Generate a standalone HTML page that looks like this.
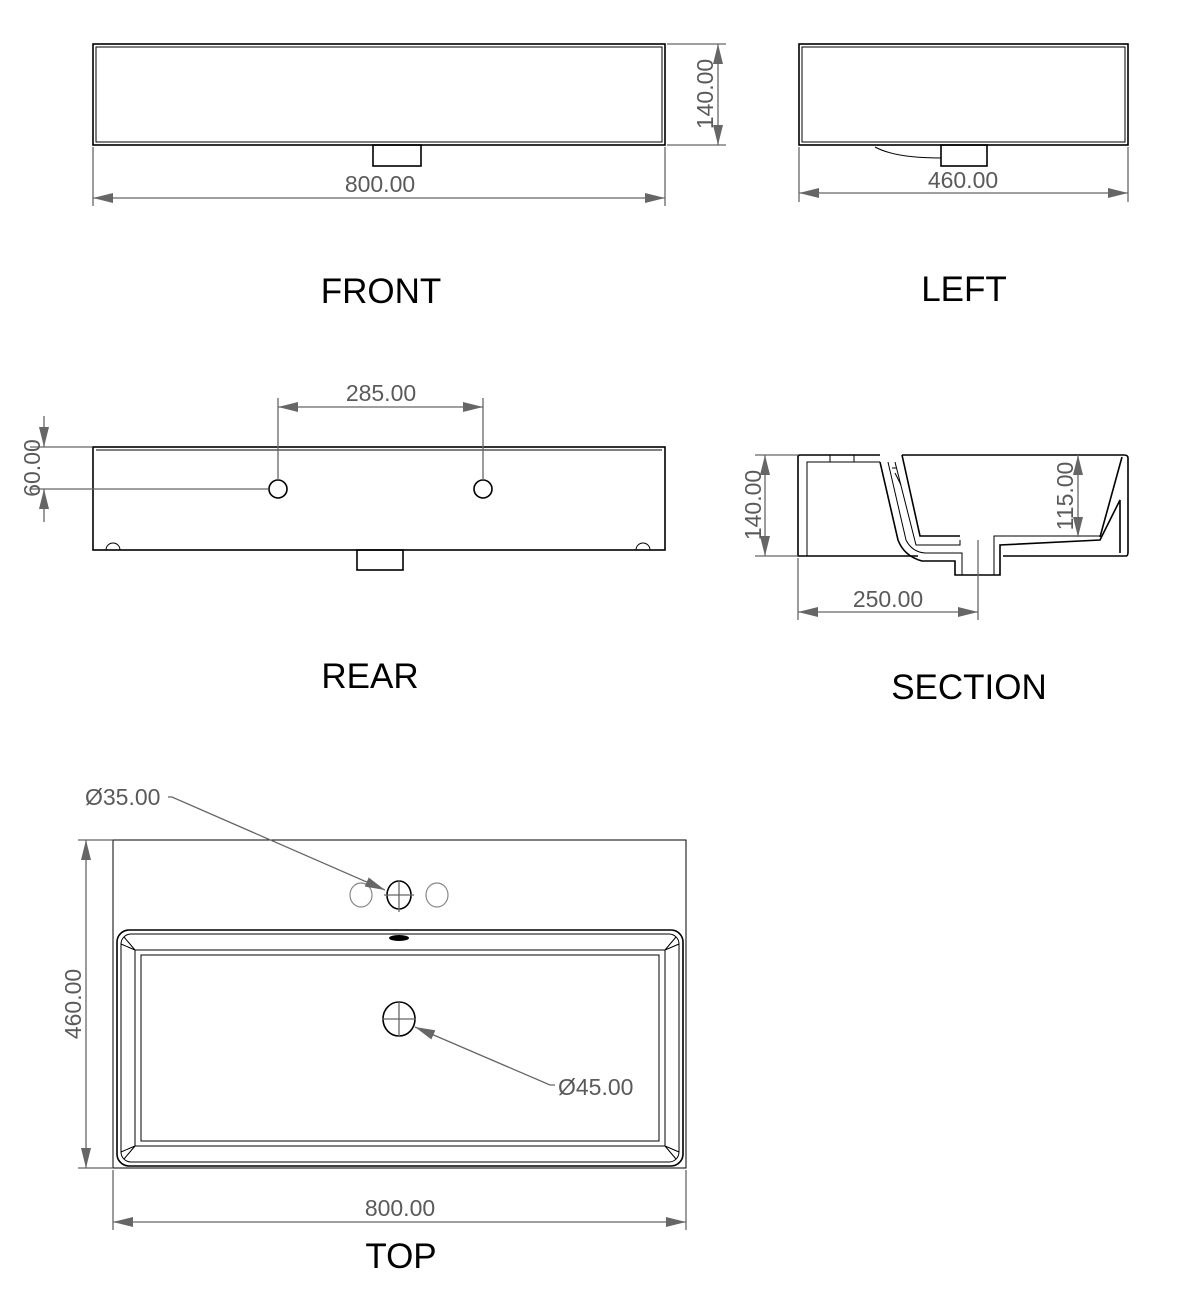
<!DOCTYPE html>
<html><head><meta charset="utf-8"><style>
html,body{margin:0;padding:0;background:#fff;}
svg{display:block;}
.o{fill:none;stroke:#000;stroke-width:1.6}
.t{fill:none;stroke:#000;stroke-width:1}
.d{fill:none;stroke:#666;stroke-width:1.3}
.dt{font-family:"Liberation Sans",sans-serif;font-size:23px;fill:#5a5a5a}
.lb{font-family:"Liberation Sans",sans-serif;font-size:35px;fill:#000}
.ar{fill:#666}
</style></head><body>
<svg width="1194" height="1312" viewBox="0 0 1194 1312" xmlns="http://www.w3.org/2000/svg">
<defs>
<marker id="a" viewBox="0 0 20 10" refX="20" refY="5" markerWidth="20" markerHeight="10" markerUnits="userSpaceOnUse" orient="auto-start-reverse"><path d="M0,0 L20,5 L0,10z" class="ar"/></marker>
</defs>
<!-- FRONT -->
<rect x="93" y="44" width="572" height="101" class="o"/>
<rect x="96" y="47" width="566" height="95" class="t"/>
<rect x="373" y="145" width="48" height="21" class="o"/>
<line x1="93" y1="147" x2="93" y2="206" class="d"/>
<line x1="665" y1="147" x2="665" y2="206" class="d"/>
<line x1="93" y1="198" x2="665" y2="198" class="d" marker-start="url(#a)" marker-end="url(#a)"/>
<text x="380" y="192" class="dt" text-anchor="middle">800.00</text>
<line x1="667" y1="44" x2="726" y2="44" class="d"/>
<line x1="667" y1="145" x2="726" y2="145" class="d"/>
<line x1="718" y1="44" x2="718" y2="145" class="d" marker-start="url(#a)" marker-end="url(#a)"/>
<text transform="translate(713,94) rotate(-90)" class="dt" text-anchor="middle">140.00</text>
<text x="381" y="303" class="lb" text-anchor="middle">FRONT</text>
<!-- LEFT -->
<rect x="799" y="44" width="329" height="101" class="o"/>
<rect x="802" y="47" width="323" height="95" class="t"/>
<rect x="941" y="145" width="46" height="21" class="o"/>
<path d="M875,147 Q895,158 941,158" class="t"/>
<line x1="799" y1="147" x2="799" y2="202" class="d"/>
<line x1="1128" y1="147" x2="1128" y2="202" class="d"/>
<line x1="799" y1="193" x2="1128" y2="193" class="d" marker-start="url(#a)" marker-end="url(#a)"/>
<text x="963" y="188" class="dt" text-anchor="middle">460.00</text>
<text x="964" y="301" class="lb" text-anchor="middle">LEFT</text>
<!-- REAR -->
<rect x="93" y="447" width="572" height="103" class="o"/>
<line x1="96" y1="450" x2="662" y2="450" class="t"/>
<circle cx="278" cy="489" r="9" class="o"/>
<circle cx="483" cy="489" r="9" class="o"/>
<path d="M106,550 A7,7 0 0 1 120,550" class="t"/>
<path d="M636,550 A7,7 0 0 1 650,550" class="t"/>
<rect x="357" y="550" width="46" height="20" class="o"/>
<line x1="278" y1="398" x2="278" y2="480" class="d"/>
<line x1="483" y1="398" x2="483" y2="480" class="d"/>
<line x1="278" y1="407" x2="483" y2="407" class="d" marker-start="url(#a)" marker-end="url(#a)"/>
<text x="381" y="401" class="dt" text-anchor="middle">285.00</text>
<line x1="30" y1="447" x2="92" y2="447" class="d"/>
<line x1="30" y1="489" x2="268" y2="489" class="d"/>
<line x1="44" y1="416" x2="44" y2="447" class="d" marker-end="url(#a)"/>
<line x1="44" y1="522" x2="44" y2="489" class="d" marker-end="url(#a)"/>
<text transform="translate(40,468) rotate(-90)" class="dt" text-anchor="middle">60.00</text>
<text x="370" y="688" class="lb" text-anchor="middle">REAR</text>
<!-- SECTION -->
<path d="M880,455 L800,455 Q798,455 798,457 L798,556 L918,556" class="o"/>
<path d="M880,462 L807,462 L807,556" class="t"/>
<rect x="830" y="455" width="24" height="7" class="t"/>
<path d="M880,462 L898,540 Q904,556 922,561 L955,561 L955,575 L1000,575 L1000,545 L1100,540 L1120,500 L1120,553" class="o"/>
<path d="M888,462 L906,540 Q912,552 925,553 L962,553 L962,575" class="t"/>
<path d="M895,462 L916,545 L960,545 L960,540" class="t"/>
<path d="M902,455 L920,536 L960,536" class="o"/>
<path d="M994,575 L994,536 L1100,536" class="t"/>
<path d="M1003,556 L1126,556 Q1128,556 1128,552 L1128,458 Q1128,455 1124,455 L902,455" class="o"/>
<path d="M1122,457 L1100,537" class="o"/>
<line x1="892" y1="468" x2="897" y2="468" class="t"/>
<line x1="895" y1="473" x2="901" y2="485" class="t"/>
<line x1="755" y1="455" x2="798" y2="455" class="d"/>
<line x1="755" y1="556" x2="798" y2="556" class="d"/>
<line x1="765" y1="455" x2="765" y2="556" class="d" marker-start="url(#a)" marker-end="url(#a)"/>
<text transform="translate(761,505) rotate(-90)" class="dt" text-anchor="middle">140.00</text>
<line x1="1078" y1="455" x2="1078" y2="537" class="d" marker-start="url(#a)" marker-end="url(#a)"/>
<text transform="translate(1073,496) rotate(-90)" class="dt" text-anchor="middle">115.00</text>
<line x1="798" y1="558" x2="798" y2="620" class="d"/>
<line x1="978" y1="540" x2="978" y2="620" class="d"/>
<line x1="798" y1="612" x2="978" y2="612" class="d" marker-start="url(#a)" marker-end="url(#a)"/>
<text x="888" y="607" class="dt" text-anchor="middle">250.00</text>
<text x="969" y="699" class="lb" text-anchor="middle">SECTION</text>
<!-- TOP -->
<rect x="113" y="840" width="573" height="328" class="t" stroke-width="1.3"/>
<rect x="117" y="930" width="566" height="236" rx="12" class="o"/>
<rect x="121" y="934" width="558" height="228" rx="10" class="t"/>
<rect x="135" y="950" width="530" height="196" class="t"/>
<rect x="141" y="955" width="518" height="186" class="t"/>
<path d="M121,944 L135,950 M679,944 L665,950 M121,1152 L135,1146 M679,1152 L665,1146" class="t"/>
<path d="M124,937 L135,950 M676,937 L665,950 M124,1159 L135,1146 M676,1159 L665,1146" class="t"/>
<ellipse cx="399" cy="895" rx="12" ry="14" class="o"/>
<line x1="384" y1="895" x2="414" y2="895" class="d"/><line x1="399" y1="880" x2="399" y2="912" class="d"/>
<ellipse cx="361" cy="895" rx="11" ry="12" fill="none" stroke="#888" stroke-width="1.2"/>
<ellipse cx="437" cy="895" rx="11" ry="12" fill="none" stroke="#888" stroke-width="1.2"/>
<ellipse cx="399" cy="938" rx="10" ry="3" fill="#000"/>
<ellipse cx="399" cy="1019" rx="16" ry="17" class="o"/>
<line x1="382" y1="1019" x2="416" y2="1019" class="d"/><line x1="399" y1="1001" x2="399" y2="1037" class="d"/>
<path d="M168,797 L172,797 L385,890" class="d" marker-end="url(#a)"/>
<text x="85" y="805" class="dt">Ø35.00</text>
<path d="M555,1085 L550,1085 L415,1027" class="d" marker-end="url(#a)"/>
<text x="558" y="1095" class="dt">Ø45.00</text>
<line x1="78" y1="840" x2="113" y2="840" class="d"/>
<line x1="78" y1="1168" x2="113" y2="1168" class="d"/>
<line x1="86" y1="840" x2="86" y2="1168" class="d" marker-start="url(#a)" marker-end="url(#a)"/>
<text transform="translate(81,1004) rotate(-90)" class="dt" text-anchor="middle">460.00</text>
<line x1="113" y1="1170" x2="113" y2="1230" class="d"/>
<line x1="686" y1="1170" x2="686" y2="1230" class="d"/>
<line x1="113" y1="1222" x2="686" y2="1222" class="d" marker-start="url(#a)" marker-end="url(#a)"/>
<text x="400" y="1216" class="dt" text-anchor="middle">800.00</text>
<text x="401" y="1268" class="lb" text-anchor="middle">TOP</text>
</svg>
</body></html>
